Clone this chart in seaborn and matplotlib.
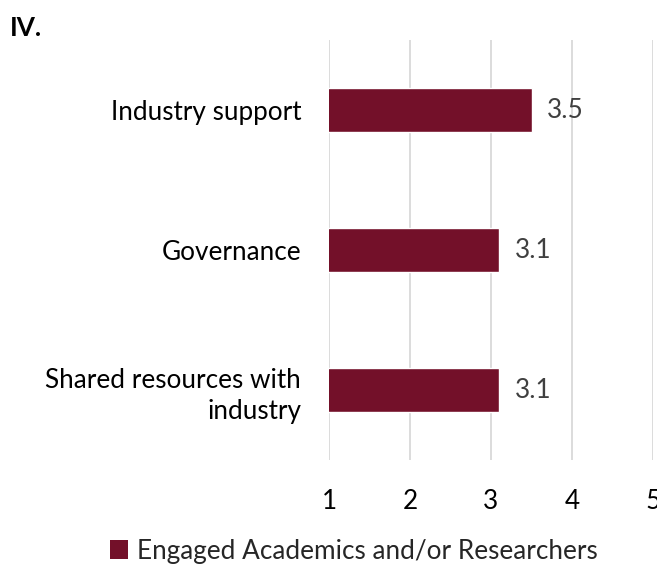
import matplotlib
matplotlib.use("Agg")
import matplotlib.pyplot as plt
import seaborn as sns
import pandas as pd
from matplotlib.patches import Patch

categories = ["Industry support", "Governance", "Shared resources with\nindustry"]
scores = [3.5, 3.1, 3.1]
series_name = "Engaged Academics and/or Researchers"
x_ticks = [1, 2, 3, 4, 5]

bar_color = "#731029"
font = "Lato"
fs = 18.8

sns.set_theme(style="white")
plt.rcParams["font.family"] = [font, "DejaVu Sans"]

df = pd.DataFrame({"category": categories, "score": scores})

fig = plt.figure(figsize=(6.57, 5.69), dpi=100)
ax = fig.add_axes([329 / 657, 1 - 460 / 569, (653 - 329) / 657, 420 / 569])

sns.barplot(data=df, x="score", y="category", orient="h", color=bar_color,
            width=0.314, saturation=1, ax=ax, zorder=3)

ax.set_xlim(1, 5)
ax.set_ylim(2.5, -0.5)
ax.set_xticks(x_ticks)
ax.set_xticklabels([str(t) for t in x_ticks], fontsize=fs, color="#000000")
ax.tick_params(axis="x", length=0, pad=21)
ax.tick_params(axis="y", length=0, pad=20)
ax.set_yticklabels(categories, fontsize=fs, color="#000000", linespacing=1.3)
ax.set_xlabel("")
ax.set_ylabel("")
ax.xaxis.grid(True, color="#d9d9d9", linewidth=1.3)
ax.set_axisbelow(True)
for s in ax.spines.values():
    s.set_visible(False)

for i, v in enumerate(scores):
    ax.text(v + 0.19, i, f"{v:.1f}", va="center", ha="left",
            fontsize=fs, color="#404040")

fig.text(10 / 657, 1 - 28 / 569, "IV.", fontsize=fs, fontweight="bold",
         ha="left", va="center", color="#000000")

handles = [Patch(facecolor=bar_color, edgecolor="none", label=series_name)]
fig.legend(handles=handles, loc="center", bbox_to_anchor=(354 / 657, 1 - 551 / 569),
           frameon=False, fontsize=fs, handlelength=0.7, handleheight=0.7,
           handletextpad=0.35)

fig.savefig("out.png", dpi=100)
